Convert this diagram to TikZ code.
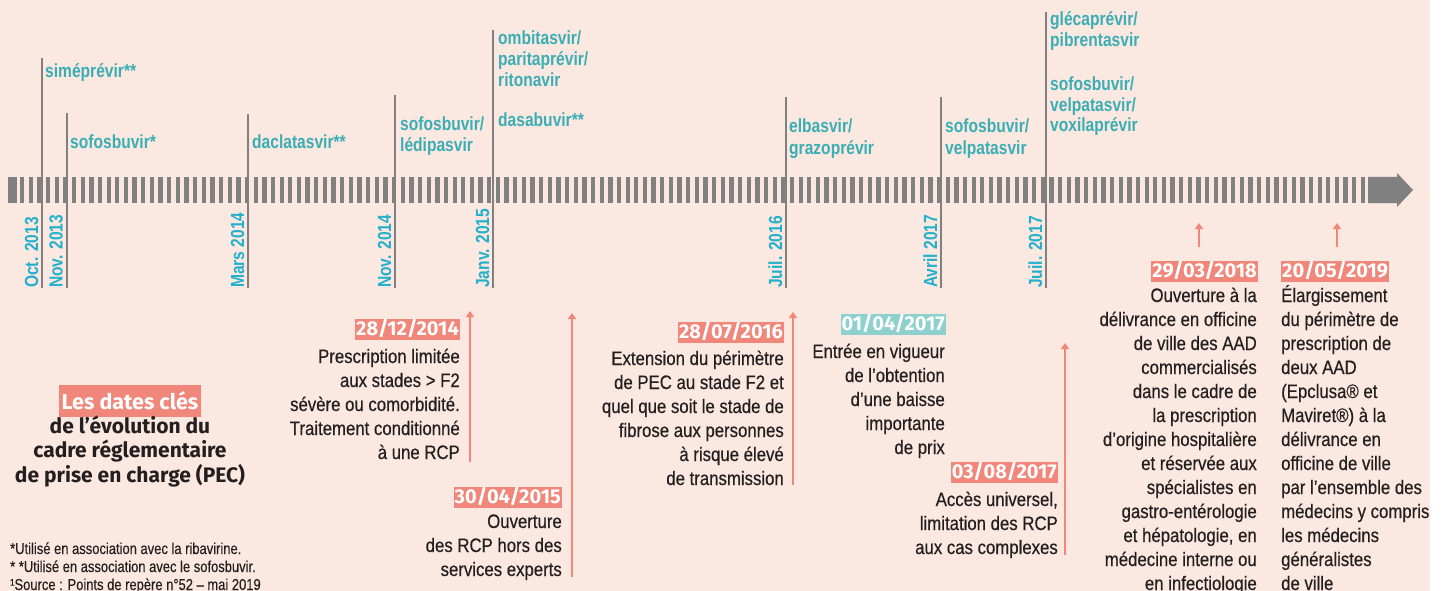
\documentclass[tikz,border=0pt]{standalone}
\usepackage{fontspec}
\setmainfont{Liberation Sans}
\newfontfamily\condf[FakeStretch=0.82]{Liberation Sans}
\newfontfamily\footf[FakeStretch=0.82,FakeBold=0.35]{Liberation Sans}
\newfontfamily\bodyf[FakeStretch=0.86,FakeBold=0.45]{Liberation Sans}
\newfontfamily\firaf{Fira Sans}
\usetikzlibrary{arrows.meta}
\definecolor{bg}{HTML}{FBE8E0}
\definecolor{salmon}{HTML}{F1877A}
\definecolor{tealbox}{HTML}{8ED0CD}
\definecolor{bargrey}{HTML}{808080}
\definecolor{drugc}{HTML}{3AAEB4}
\definecolor{datec}{HTML}{22B0CC}
\definecolor{ink}{HTML}{231F20}
\tikzset{
  druglbl/.style={anchor=base west, inner sep=0pt, text=drugc, align=left,
    font=\condf\bfseries\fontsize{19}{21}\selectfont},
  monthlbl/.style={rotate=90, anchor=base west, inner sep=0pt, text=datec,
    font=\condf\bfseries\fontsize{19}{21}\selectfont},
  tickline/.style={draw=bargrey, line width=2pt},
  datebox/.style={fill=salmon, text=white, font=\firaf\bfseries\fontsize{20}{20}\selectfont,
    inner xsep=1pt, inner ysep=0pt, text height=15pt, text depth=3pt, minimum height=21pt},
  desctext/.style={inner sep=0pt, text=ink, font=\bodyf\fontsize{19.5}{24}\selectfont},
  evarrow/.style={draw=salmon, line width=2.6pt, -{Triangle[width=8pt,length=6pt]}},
}
\begin{document}
\begin{tikzpicture}[x=1pt,y=-1pt]
\useasboundingbox (0,0) rectangle (1446,591);
\fill[bg] (0,0) rectangle (1430,591);
% timeline bar
\fill[bargrey] (8,177) rectangle (17,203);
\foreach \i in {0,...,155} {
  \fill[bargrey] ({20+8.65*\i},177) rectangle ({24.3+8.65*\i},203);
}
\fill[bargrey] (1368,177) -- (1397,177) -- (1397,173) -- (1413,190) -- (1397,207) -- (1397,203) -- (1368,203) -- cycle;
% tick lines
\coordinate (k1t) at (42,58);   \coordinate (k1b) at (42,288);
\coordinate (k2t) at (66.5,113); \coordinate (k2b) at (66.5,288);
\coordinate (k3t) at (248,114); \coordinate (k3b) at (248,288);
\coordinate (k4t) at (395,95);  \coordinate (k4b) at (395,288);
\coordinate (k5t) at (493,30);  \coordinate (k5b) at (493,288);
\coordinate (k6t) at (786,97);  \coordinate (k6b) at (786,288);
\coordinate (k7t) at (941,97);  \coordinate (k7b) at (941,288);
\coordinate (k8t) at (1046,12); \coordinate (k8b) at (1046,288);
\foreach \k in {1,...,8} { \draw[tickline] (k\k t) -- (k\k b); }
% month labels
\node[monthlbl] (m1) at (38,288) {Oct. 2013};
\node[monthlbl] (m2) at (62.5,288) {Nov. 2013};
\node[monthlbl] (m3) at (244,288) {Mars 2014};
\node[monthlbl] (m4) at (391,288) {Nov. 2014};
\node[monthlbl] (m5) at (489,288) {Janv. 2015};
\node[monthlbl] (m6) at (782,288) {Juil. 2016};
\node[monthlbl] (m7) at (937,288) {Avril 2017};
\node[monthlbl] (m8) at (1042,288) {Juil. 2017};
% drug labels (anchor = baseline of last line)
\node[druglbl] (d1) at (45,78) {siméprévir**};
\node[druglbl] (d2) at (70,149) {sofosbuvir*};
\node[druglbl] (d3) at (252,149) {daclatasvir**};
\node[druglbl] (d4) at (400,152) {sofosbuvir/\\lédipasvir};
\node[druglbl] (d5) at (498,87) {ombitasvir/\\paritaprévir/\\ritonavir};
\node[druglbl] (d6) at (498,127) {dasabuvir**};
\node[druglbl] (d7) at (789,154) {elbasvir/\\grazoprévir};
\node[druglbl] (d8) at (945,154) {sofosbuvir/\\velpatasvir};
\node[druglbl] (d9) at (1050,47) {glécaprévir/\\pibrentasvir};
\node[druglbl] (d10) at (1050,132) {sofosbuvir/\\velpatasvir/\\voxilaprévir};
% date boxes
\node[datebox, anchor=south east] (b1) at (460,340) {28/12/2014};
\node[datebox, anchor=south east] (b2) at (562,508) {30/04/2015};
\node[datebox, anchor=south east] (b3) at (784,343) {28/07/2016};
\node[datebox, fill=tealbox, anchor=south east] (b4) at (946,335) {01/04/2017};
\node[datebox, anchor=south east] (b5) at (1058,483) {03/08/2017};
\node[datebox, anchor=south east] (b6) at (1258,282) {29/03/2018};
\node[datebox, anchor=south west] (b7) at (1281,282) {20/05/2019};
% descriptions (anchor = baseline of last line)
\node[desctext, align=right, anchor=base east] (e1) at (460,459) {Prescription limitée\\aux stades > F2\\sévère ou comorbidité.\\Traitement conditionné\\à une RCP};
\node[desctext, align=right, anchor=base east] (e2) at (562,576) {Ouverture\\des RCP hors des\\services experts};
\node[desctext, align=right, anchor=base east] (e3) at (784,485) {Extension du périmètre\\de PEC au stade F2 et\\quel que soit le stade de\\fibrose aux personnes\\à risque élevé\\de transmission};
\node[desctext, align=right, anchor=base east] (e4) at (945,454) {Entrée en vigueur\\de l’obtention\\d’une baisse\\importante\\de prix};
\node[desctext, align=right, anchor=base east] (e5) at (1058,554) {Accès universel,\\limitation des RCP\\aux cas complexes};
\node[desctext, align=right, anchor=base east] (e6) at (1257,590) {Ouverture à la\\délivrance en officine\\de ville des AAD\\commercialisés\\dans le cadre de\\la prescription\\d’origine hospitalière\\et réservée aux\\spécialistes en\\gastro-entérologie\\et hépatologie, en\\médecine interne ou\\en infectiologie};
\node[desctext, align=left, anchor=base west] (e7) at (1281,590) {Élargissement\\du périmètre de\\prescription de\\deux AAD\\(Epclusa® et\\Maviret®) à la\\délivrance en\\officine de ville\\par l’ensemble des\\médecins y compris\\les médecins\\généralistes\\de ville};
% arrows
\coordinate (a1s) at (470,462);  \coordinate (a1e) at (470,311);
\coordinate (a2s) at (572,577);  \coordinate (a2e) at (572,313);
\coordinate (a3s) at (793,485);  \coordinate (a3e) at (793,312);
\coordinate (a4s) at (1065,555); \coordinate (a4e) at (1065,343);
\coordinate (a5s) at (1199,247); \coordinate (a5e) at (1199,223);
\coordinate (a6s) at (1337,247); \coordinate (a6e) at (1337,223);
\foreach \a in {1,...,6} { \draw[evarrow] (a\a s) -- (a\a e); }
% title
\node[fill=salmon, text=white, font=\firaf\bfseries\fontsize{21.5}{24}\selectfont,
  inner xsep=3pt, inner ysep=4.5pt, text height=19.5pt, text depth=3.5pt] (t0) at (130,401) {Les dates clés};
\node[font=\firaf\bfseries\fontsize{21}{24.5}\selectfont, text=ink, align=center, anchor=base, inner sep=0pt] (t1) at (130,482) {de l’évolution du\\cadre réglementaire\\de prise en charge (PEC)};
% footnotes
\node[anchor=base west, inner sep=0pt, font=\footf\fontsize{15.8}{18}\selectfont, text=ink, align=left] (fn) at (10,590) {*Utilisé en association avec la ribavirine.\\* *Utilisé en association avec le sofosbuvir.\\¹Source : Points de repère n°52 – mai 2019};
\end{tikzpicture}
\end{document}
